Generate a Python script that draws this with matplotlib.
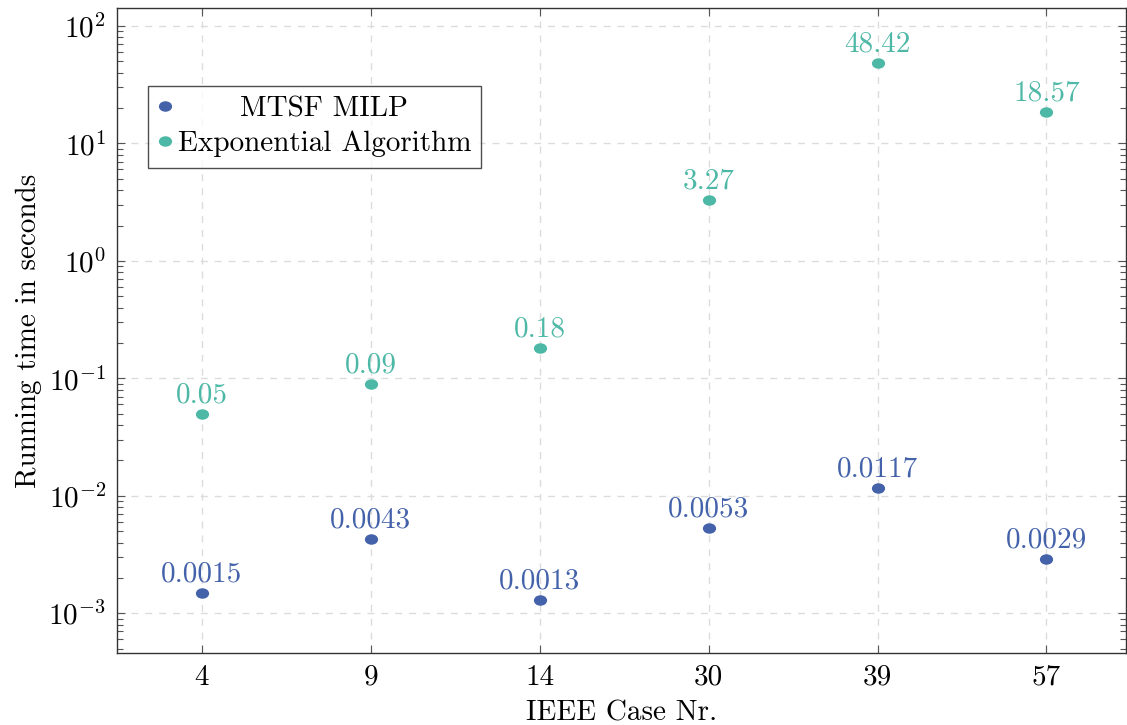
import numpy as np
import matplotlib
matplotlib.use("Agg")
import matplotlib.pyplot as plt
from matplotlib.path import Path
from matplotlib.transforms import Affine2D
from matplotlib.ticker import LogLocator, NullFormatter

cases = ["4", "9", "14", "30", "39", "57"]
milp_times = [0.0015, 0.0043, 0.0013, 0.0053, 0.0117, 0.0029]
milp_labels = ["0.0015", "0.0043", "0.0013", "0.0053", "0.0117", "0.0029"]
exp_times = [0.05, 0.09, 0.18, 3.27, 48.42, 18.57]
exp_labels = ["0.05", "0.09", "0.18", "3.27", "48.42", "18.57"]

blue = "#4462aa"
teal = "#4db8a6"

plt.rcParams["font.family"] = "cmr10"
plt.rcParams["mathtext.fontset"] = "cm"
plt.rcParams["axes.formatter.use_mathtext"] = True
plt.rcParams["font.size"] = 21

# slightly flattened dot, like the pgfplots marks
circ = Path.unit_circle()
ellipse = Path(circ.vertices * np.array([1.3, 1.0]), circ.codes)

fig, ax = plt.subplots(figsize=(11.27, 7.25), dpi=100)
fig.subplots_adjust(left=0.104, right=0.999, top=0.989, bottom=0.099)

x = np.arange(len(cases))
ax.plot(x, milp_times, ls="none", marker=ellipse, ms=8.5, color=blue,
        label="MTSF MILP", zorder=3)
ax.plot(x, exp_times, ls="none", marker=ellipse, ms=8.5, color=teal,
        label="Exponential Algorithm", zorder=3)

for xi, v, lab in zip(x, milp_times, milp_labels):
    ax.annotate(lab, (xi, v), xytext=(0, 4), textcoords="offset points",
                ha="center", va="bottom", color=blue, fontsize=21)
for xi, v, lab in zip(x, exp_times, exp_labels):
    ax.annotate(lab, (xi, v), xytext=(0, 4), textcoords="offset points",
                ha="center", va="bottom", color=teal, fontsize=21)

ax.set_yscale("log")
ax.set_ylim(10 ** -3.34, 10 ** 2.153)
ax.set_xlim(-0.5, 5.47)
ax.set_xticks(x)
ax.set_xticklabels(cases)
ax.yaxis.set_major_locator(LogLocator(base=10, numticks=10))
ax.yaxis.set_minor_locator(LogLocator(base=10, subs=np.arange(2, 10), numticks=20))
ax.yaxis.set_minor_formatter(NullFormatter())

ax.grid(True, which="major", ls=(0, (5, 5)), color="#dcdcdc", lw=1)
ax.set_axisbelow(True)
ax.tick_params(which="both", direction="in", top=True, right=True,
               color="#555555")
ax.tick_params(which="major", length=6, width=0.8, pad=8)
ax.tick_params(which="minor", length=4, width=0.8)
for s in ax.spines.values():
    s.set_color("#333333")
    s.set_linewidth(1)

ax.set_xlabel("IEEE Case Nr.", labelpad=7)
ax.set_ylabel("Running time in seconds", labelpad=5)

leg = ax.legend(loc="upper left", bbox_to_anchor=(0.031, 0.879),
                borderaxespad=0, frameon=True, fancybox=False,
                edgecolor="#222222", handlelength=0.45, handletextpad=0.2,
                borderpad=0.35, labelspacing=0.28, fontsize=21)
leg.get_frame().set_linewidth(1)

# centre the shorter legend entry, as pgfplots does
fig.canvas.draw()
r = fig.canvas.get_renderer()
texts = leg.get_texts()
w_max = max(t.get_window_extent(r).width for t in texts)
for t in texts:
    dx = (w_max - t.get_window_extent(r).width) / 2
    if dx > 0:
        t.set_transform(t.get_transform() + Affine2D().translate(dx, 0))

fig.savefig("out.png", dpi=100)
